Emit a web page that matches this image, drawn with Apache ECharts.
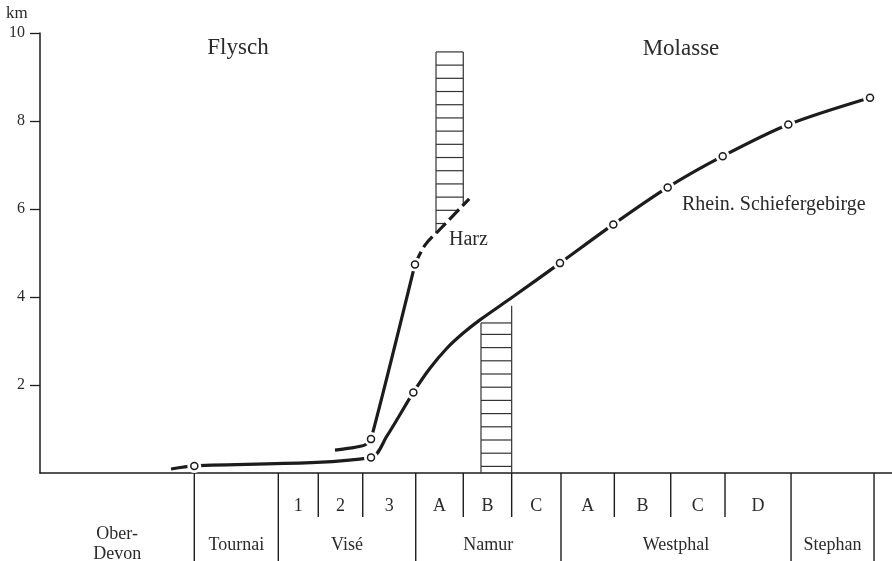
<!DOCTYPE html>
<html><head><meta charset="utf-8">
<script src="https://cdn.jsdelivr.net/npm/echarts@6/dist/echarts.min.js"></script>
<style>html,body{margin:0;padding:0;background:#fff}#c{width:892px;height:561px}</style>
</head><body><div id="c"></div>
<script>
// Relative stratigraphic scale (0..100 across the axis)
const stageBounds = [0, 18.11, 27.97, 44.10, 61.15, 88.15, 97.89];
const stageLabels = ['Ober-\nDevon', 'Tournai', 'Visé', 'Namur', 'Westphal', 'Stephan'];
const subBounds = [27.97, 32.66, 37.88, 44.10, 49.68, 55.36, 61.15, 67.41, 74.03, 80.40, 88.15];
const subLabels = ['1', '2', '3', 'A', 'B', 'C', 'A', 'B', 'C', 'D'];
const yTicks = [2, 4, 6, 8, 10];

// Rhein. Schiefergebirge curve (km); marked = observed point with circle
const rheinX      = [15.38, 18.11, 38.85, 40.69, 43.82, 45.77, 47.73, 49.68, 51.64, 55.55, 61.03, 67.29, 73.67, 80.13, 87.83, 97.42];
const rheinKm     = [0.09,  0.16,  0.35,  0.83,  1.83,  2.38,  2.83,  3.18,  3.48,  4.01,  4.77,  5.65,  6.49,  7.20,  7.92,  8.53];
const rheinMarked = [0,     1,     1,     0,     1,     0,     0,     0,     0,     0,     1,     1,     1,     1,     1,     1];

// Harz curve: solid lower part, dashed upper part
const harzSolidX  = [34.62, 36.62, 38.15, 38.85, 44.01];
const harzSolidKm = [0.52,  0.57,  0.64,  0.77,  4.74];
const harzDashX   = [44.01, 45.19, 46.95, 50.38];
const harzDashKm  = [4.74,  5.18,  5.54,  6.23];
const harzMarkX   = [38.85, 44.01];
const harzMarkKm  = [0.77,  4.74];

// Hatched columns (ladders)
const ladderX0     = [46.48, 51.76];
const ladderX1     = [49.68, 55.36];
const ladderTopL   = [9.57, 3.41];
const ladderTopR   = [9.57, 3.80];
const ladderBotL   = [5.45, 0];
const ladderBotR   = [6.08, 0];
const ladderRungs0 = [9.57, 0.15];
const ladderStep   = [-0.30, 0.30];

const FONT = '"Liberation Serif","DejaVu Serif",serif';
const INK = '#1c1c1c';
const TXT = '#2b2b2b';

function zip(xs, ys) { return xs.map((x, i) => [x, ys[i]]); }
const rheinLine = zip(rheinX, rheinKm);
const rheinMarks = rheinLine.filter((d, i) => rheinMarked[i]);
const harzMarks = zip(harzMarkX, harzMarkKm);
const allMarks = rheinMarks.concat(harzMarks);

function renderLadder(params, api) {
  const i = params.dataIndex;
  const x0 = ladderX0[i], x1 = ladderX1[i];
  const ls = { stroke: '#333', lineWidth: 1.2 };
  const children = [];
  const p = (x, y) => api.coord([x, y]);
  const line = (a, b) => children.push({ type: 'line', shape: { x1: a[0], y1: a[1], x2: b[0], y2: b[1] }, style: ls });
  line(p(x0, ladderBotL[i]), p(x0, ladderTopL[i]));
  line(p(x1, ladderBotR[i]), p(x1, ladderTopR[i]));
  const rungs = [];
  let v = ladderRungs0[i];
  const step = ladderStep[i];
  if (step < 0) {
    while (v > Math.min(ladderBotL[i], ladderBotR[i])) { rungs.push(v); v += step; }
  } else {
    while (v < ladderTopL[i] - 0.1) { rungs.push(v); v += step; }
    rungs.push(ladderTopL[i]);
  }
  rungs.forEach(r => {
    let xa = x0, xb = x1;
    if (ladderBotR[i] > ladderBotL[i] && r < ladderBotR[i]) {
      xb = x0 + (r - ladderBotL[i]) / (ladderBotR[i] - ladderBotL[i]) * (x1 - x0);
    }
    if (xb > xa) line(p(xa, r), p(xb, r));
  });
  return { type: 'group', children };
}

function renderTable(params, api) {
  const children = [];
  const ls = { stroke: INK, lineWidth: 1.4 };
  const p = (x, y) => api.coord([x, y]);
  const line = (a, b) => children.push({ type: 'line', shape: { x1: a[0], y1: a[1], x2: b[0], y2: b[1] }, style: ls });
  for (let k = 1; k < stageBounds.length; k++) line(p(stageBounds[k], 0), p(stageBounds[k], -2));
  subBounds.forEach(b => { if (stageBounds.indexOf(b) < 0) line(p(b, 0), p(b, -1)); });
  const text = (t, pt) => children.push({
    type: 'text', x: pt[0], y: pt[1],
    style: { text: t, fill: TXT, font: '18px ' + FONT, align: 'center', verticalAlign: 'middle', lineHeight: 20 }
  });
  for (let k = 0; k < subLabels.length; k++) text(subLabels[k], p((subBounds[k] + subBounds[k + 1]) / 2, -0.75));
  for (let k = 0; k < stageLabels.length; k++) {
    const yv = k === 0 ? -1.62 : -1.65;
    text(stageLabels[k], p((stageBounds[k] + stageBounds[k + 1]) / 2, yv));
  }
  return { type: 'group', children };
}

const chart = echarts.init(document.getElementById('c'), null, { renderer: 'canvas' });
chart.setOption({
  backgroundColor: '#fff',
  animation: false,
  grid: { left: 40, right: 0, top: 33, bottom: 88, containLabel: false },
  xAxis: {
    type: 'value', min: 0, max: 100,
    axisLine: { show: true, lineStyle: { color: INK, width: 1.5 } },
    axisTick: { show: false }, axisLabel: { show: false }, splitLine: { show: false }
  },
  yAxis: {
    type: 'value', min: 0, max: 10, interval: 2,
    axisLine: { show: true, lineStyle: { color: INK, width: 1.5 } },
    axisTick: { show: true, length: 10, customValues: yTicks, lineStyle: { color: INK, width: 1.3 } },
    axisLabel: { customValues: yTicks, margin: 15, color: TXT, fontFamily: FONT, fontSize: 16,
      formatter: v => (v === 0 ? '' : String(v)) },
    splitLine: { show: false }
  },
  graphic: [
    { type: 'text', left: 6, top: 5, style: { text: 'km', font: '17px ' + FONT, fill: TXT } },
    { type: 'text', x: 238, y: 48, style: { text: 'Flysch', font: '23px ' + FONT, fill: TXT, align: 'center', verticalAlign: 'middle' } },
    { type: 'text', x: 681, y: 49, style: { text: 'Molasse', font: '23px ' + FONT, fill: TXT, align: 'center', verticalAlign: 'middle' } },
    { type: 'text', x: 449, y: 240, style: { text: 'Harz', font: '20px ' + FONT, fill: TXT, align: 'left', verticalAlign: 'middle' } },
    { type: 'text', x: 682, y: 205, style: { text: 'Rhein. Schiefergebirge', font: '20px ' + FONT, fill: TXT, align: 'left', verticalAlign: 'middle' } }
  ],
  series: [
    { type: 'custom', z: 1, clip: false, renderItem: renderTable, data: [0] },
    { type: 'custom', z: 1, clip: false, renderItem: renderLadder, data: [0, 1] },
    { type: 'line', z: 2, data: rheinLine, smooth: 0.3, showSymbol: false, lineStyle: { color: INK, width: 3.2 } },
    { type: 'line', z: 2, data: zip(harzSolidX, harzSolidKm), smooth: 0.2, showSymbol: false, lineStyle: { color: INK, width: 3.2 } },
    { type: 'line', z: 2, data: zip(harzDashX, harzDashKm), smooth: 0.3, showSymbol: false, lineStyle: { color: INK, width: 3.2, type: [14, 5] } },
    { type: 'scatter', z: 3, data: allMarks, symbol: 'circle', symbolSize: 14, itemStyle: { color: '#fff', opacity: 1 }, silent: true },
    { type: 'scatter', z: 4, data: allMarks, symbol: 'circle', symbolSize: 7, itemStyle: { color: '#fff', borderColor: INK, borderWidth: 1.5, opacity: 1 }, silent: true }
  ]
});
</script>
</body></html>
